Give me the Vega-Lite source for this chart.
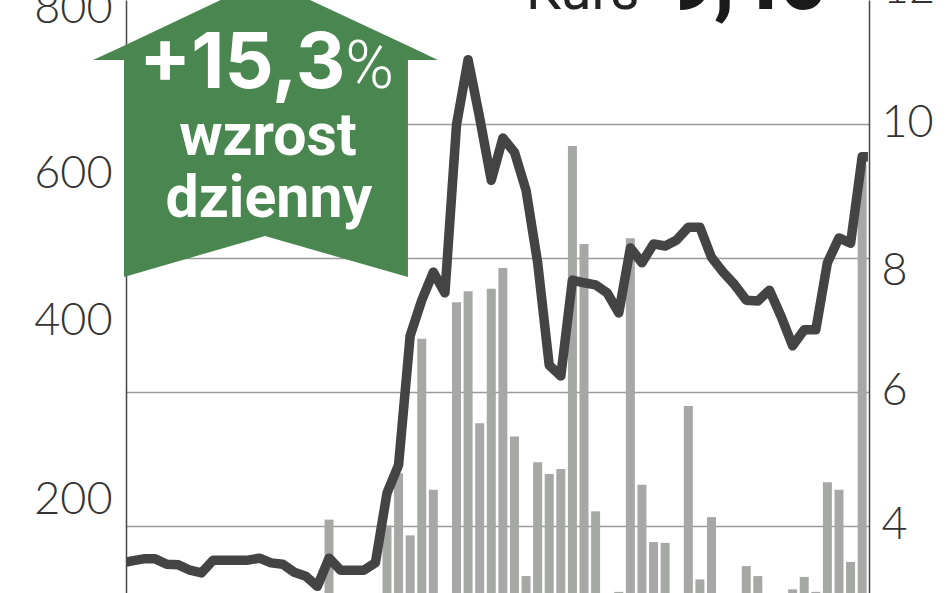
{
"$schema":"https://vega.github.io/schema/vega-lite/v6.json",
"width":743,"height":593,
"autosize":{"type":"none"},
"padding":{"left":126,"top":0,"right":79,"bottom":0},
"background":"white",
"view":{"stroke":null},
"datasets":{
"series":[
{"d":-0.5,"kurs":3.46},{"d":0,"kurs":3.48},{"d":1,"kurs":3.51},{"d":2,"kurs":3.51},{"d":3,"kurs":3.43},{"d":4,"kurs":3.42},{"d":5,"kurs":3.34},{"d":6,"kurs":3.30},{"d":7,"kurs":3.49},{"d":8,"kurs":3.49},{"d":9,"kurs":3.49},{"d":10,"kurs":3.49},{"d":11,"kurs":3.52},{"d":12,"kurs":3.45},{"d":13,"kurs":3.43},{"d":14,"kurs":3.31},{"d":15,"kurs":3.25},{"d":16,"kurs":3.10},{"d":17,"kurs":3.52,"obrot":180},{"d":18,"kurs":3.34},{"d":19,"kurs":3.34},{"d":20,"kurs":3.34},{"d":21,"kurs":3.45},{"d":22,"kurs":4.49,"obrot":173},{"d":23,"kurs":4.91,"obrot":236},{"d":24,"kurs":6.84,"obrot":161},{"d":25,"kurs":7.37,"obrot":398},{"d":26,"kurs":7.79,"obrot":216},{"d":27,"kurs":7.48},{"d":28,"kurs":9.99,"obrot":442},{"d":29,"kurs":10.96,"obrot":455},{"d":30,"kurs":10.09,"obrot":296},{"d":31,"kurs":9.16,"obrot":458},{"d":32,"kurs":9.79,"obrot":483},{"d":33,"kurs":9.58,"obrot":280},{"d":34,"kurs":9.01,"obrot":112},{"d":35,"kurs":7.93,"obrot":249},{"d":36,"kurs":6.40,"obrot":235},{"d":37,"kurs":6.24,"obrot":241},{"d":38,"kurs":7.67,"obrot":630},{"d":39,"kurs":7.63,"obrot":512},{"d":40,"kurs":7.60,"obrot":190},{"d":41,"kurs":7.48},{"d":42,"kurs":7.18,"obrot":93},{"d":43,"kurs":8.15,"obrot":519},{"d":44,"kurs":7.93,"obrot":222},{"d":45,"kurs":8.21,"obrot":153},{"d":46,"kurs":8.18,"obrot":152},{"d":47,"kurs":8.27},{"d":48,"kurs":8.46,"obrot":317},{"d":49,"kurs":8.46,"obrot":108},{"d":50,"kurs":8.01,"obrot":183},{"d":51,"kurs":7.79},{"d":52,"kurs":7.60},{"d":53,"kurs":7.37,"obrot":124},{"d":54,"kurs":7.36,"obrot":112},{"d":55,"kurs":7.52},{"d":56,"kurs":7.13},{"d":57,"kurs":6.69,"obrot":96},{"d":58,"kurs":6.93,"obrot":111},{"d":59,"kurs":6.93,"obrot":93},{"d":60,"kurs":7.93,"obrot":225},{"d":61,"kurs":8.30,"obrot":216},{"d":62,"kurs":8.22,"obrot":129},{"d":63,"kurs":9.51,"obrot":607},{"d":63.5,"kurs":9.51}
],
"arrow":[
{"d":-3.365,"top":10.955,"bottom":10.955},{"d":-0.69,"top":11.17,"bottom":10.955},{"d":-0.69,"top":11.17,"bottom":7.716},{"d":11.475,"top":12.164,"bottom":8.328},{"d":23.81,"top":11.17,"bottom":7.716},{"d":23.81,"top":11.17,"bottom":10.955},{"d":26.4,"top":10.955,"bottom":10.955}
]
},
"encoding":{"x":{"field":"d","type":"quantitative","scale":{"domain":[-0.518,63.59],"nice":false,"zero":false,"padding":0},"axis":null}},
"resolve":{"scale":{"y":"independent"},"axis":{"y":"independent"}},
"layer":[
{"data":{"name":"series"},"mark":{"type":"bar","size":9,"color":"#a6a8a6","clip":true},
 "encoding":{"y":{"field":"obrot","type":"quantitative","stack":null,"scale":{"domain":[91.6,806],"nice":false,"zero":false},
 "axis":{"orient":"left","values":[200,400,600,800],"grid":false,"ticks":false,"domain":true,"domainColor":"#444444","domainWidth":1.5,"title":null,"labelFont":"Lato","labelFontWeight":300,"labelFontSize":45,"labelColor":"#333333","labelPadding":14,"labelBaseline":"middle","labelFlush":false,"labelOverlap":false,
 "labelOffset":{"condition":[{"test":"datum.value==400","value":-17},{"test":"datum.value==200","value":-4},{"test":"datum.value==600","value":3}],"value":4}}}}},
{"data":{"name":"series"},"mark":{"type":"line","color":"#444444","strokeWidth":9.5,"strokeJoin":"round","strokeCap":"butt","clip":true},
 "encoding":{"y":{"field":"kurs","type":"quantitative","scale":{"domain":[3,11.851],"nice":false,"zero":false},
 "axis":{"orient":"right","values":[4,6,8,10],"grid":true,"gridColor":"#9a9a9a","gridWidth":1.5,"ticks":false,"domain":true,"domainColor":"#444444","domainWidth":1.5,"title":null,"labelFont":"Lato","labelFontWeight":300,"labelFontSize":45,"labelColor":"#333333","labelPadding":12,"labelBaseline":"middle","labelFlush":false,"labelOverlap":false,
 "labelOffset":{"condition":[{"test":"datum.value==8","value":12}],"value":-2}}}}},
{"data":{"name":"arrow"},"mark":{"type":"area","color":"#4a8650","clip":false,"interpolate":"linear","orient":"vertical"},
 "encoding":{"x":{"field":"d","type":"quantitative","sort":null},"y":{"field":"top","type":"quantitative","stack":null,"scale":{"domain":[3,11.851],"nice":false,"zero":false},"axis":null},"y2":{"field":"bottom"},"order":{"value":null}}},
{"data":{"values":[{"d":0.6,"v":10.537,"t":"+15,3"}]},"mark":{"type":"text","align":"left","baseline":"alphabetic","font":"Inter","fontWeight":700,"fontSize":77,"color":"white"},
 "encoding":{"x":{"field":"d","type":"quantitative"},"y":{"field":"v","type":"quantitative","scale":{"domain":[3,11.851],"nice":false,"zero":false},"axis":null},"text":{"field":"t"}}},
{"data":{"values":[{"d":18.4,"v":10.537,"t":"%"}]},"mark":{"type":"text","align":"left","baseline":"alphabetic","font":"Roboto","fontWeight":300,"fontSize":66,"color":"white"},
 "encoding":{"x":{"field":"d","type":"quantitative"},"y":{"field":"v","type":"quantitative","scale":{"domain":[3,11.851],"nice":false,"zero":false},"axis":null},"text":{"field":"t"}}},
{"data":{"values":[{"d":11.73,"v":9.537,"t":"wzrost"},{"d":11.81,"v":8.612,"t":"dzienny"}]},"mark":{"type":"text","align":"center","baseline":"alphabetic","font":"Roboto","fontWeight":700,"fontSize":59,"color":"white"},
 "encoding":{"x":{"field":"d","type":"quantitative"},"y":{"field":"v","type":"quantitative","scale":{"domain":[3,11.851],"nice":false,"zero":false},"axis":null},"text":{"field":"t"}}},
{"data":{"values":[{"d":34.0,"v":11.716,"t":"Kurs"}]},"mark":{"type":"text","align":"left","baseline":"alphabetic","font":"Roboto","fontWeight":400,"fontSize":56,"color":"#222222","clip":false},
 "encoding":{"x":{"field":"d","type":"quantitative"},"y":{"field":"v","type":"quantitative","scale":{"domain":[3,11.851],"nice":false,"zero":false},"axis":null},"text":{"field":"t"}}},
{"data":{"values":[{"d":46.3,"v":11.72,"t":"9,46"}]},"mark":{"type":"text","align":"left","baseline":"alphabetic","font":"Roboto","fontWeight":900,"fontSize":78,"color":"#1a1a1a","clip":false},
 "encoding":{"x":{"field":"d","type":"quantitative"},"y":{"field":"v","type":"quantitative","scale":{"domain":[3,11.851],"nice":false,"zero":false},"axis":null},"text":{"field":"t"}}},
{"data":{"values":[{"d":64.8,"v":11.806,"t":"12"}]},"mark":{"type":"text","align":"left","baseline":"alphabetic","font":"Lato","fontWeight":300,"fontSize":45,"color":"#333333","clip":false},
 "encoding":{"x":{"field":"d","type":"quantitative"},"y":{"field":"v","type":"quantitative","scale":{"domain":[3,11.851],"nice":false,"zero":false},"axis":null},"text":{"field":"t"}}}
]
}
